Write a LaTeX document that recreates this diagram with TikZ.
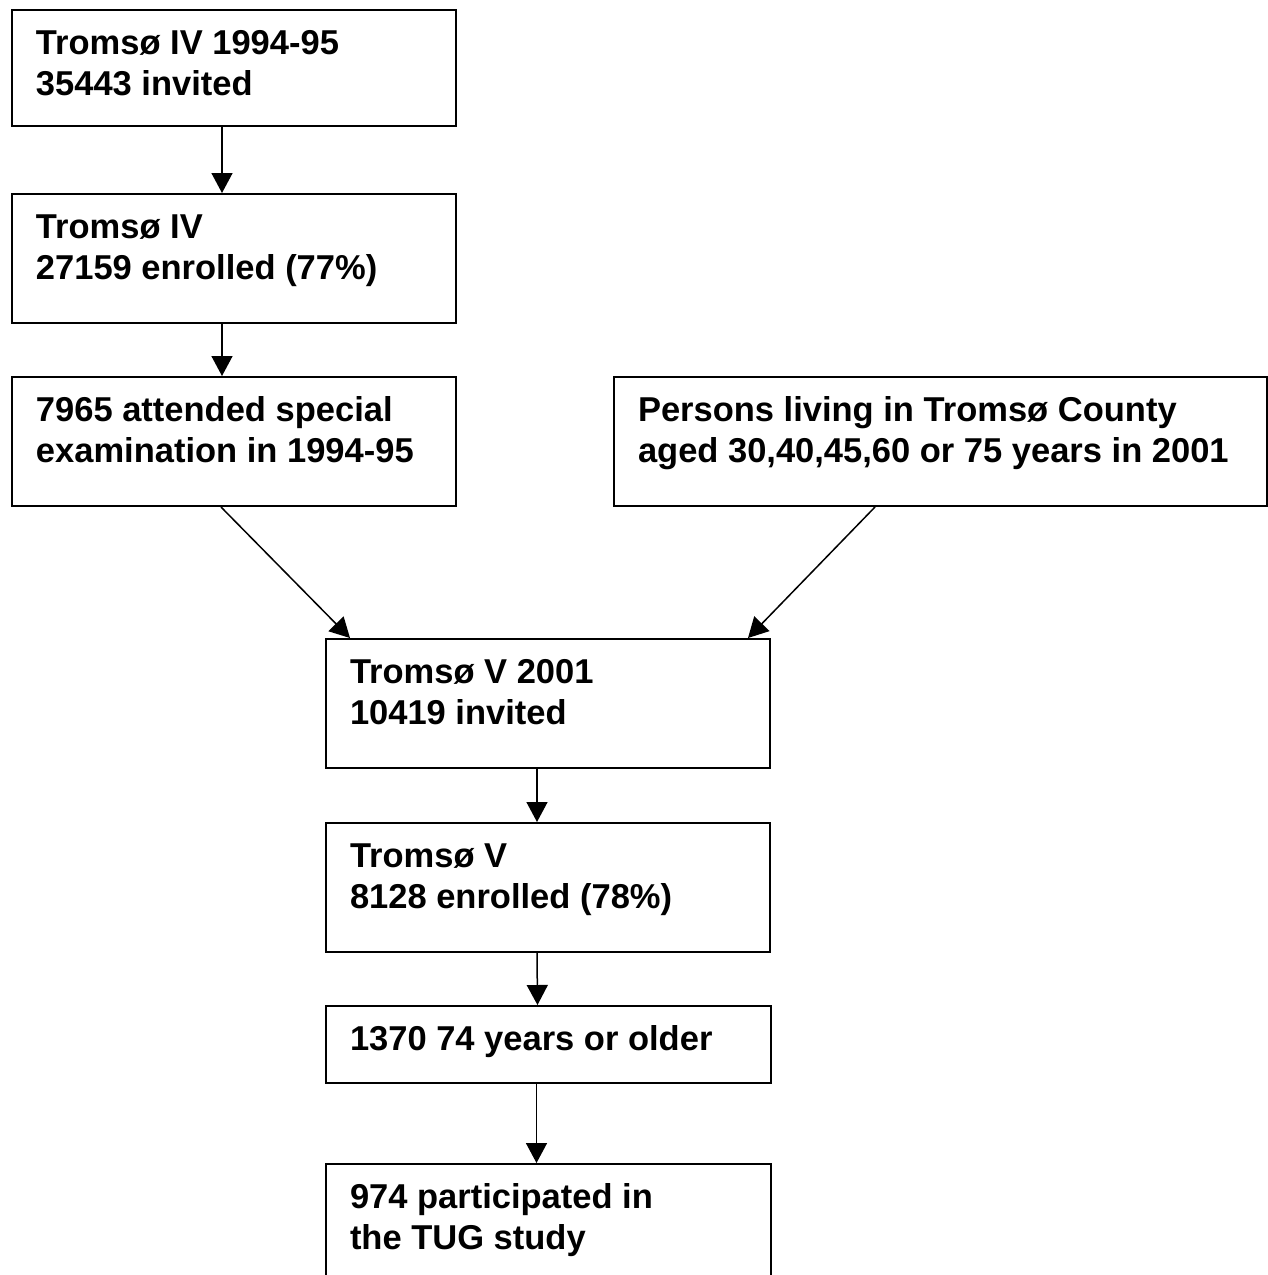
\documentclass[tikz,border=0pt]{standalone}
\usepackage{fontspec}
\setmainfont{Liberation Sans}
\usetikzlibrary{arrows.meta}

\newcommand\boxfont{\fontsize{34.5}{41}\selectfont\bfseries}
\newcommand\boxtext[3]{\parbox[t][#2][t]{#1}{\raggedright\leftskip=24pt\rule{0pt}{44pt}#3}}

\begin{document}
\begin{tikzpicture}[x=1pt,y=-1pt,
		box/.style={draw,line width=2pt,anchor=north west,inner sep=0pt,font=\boxfont},
		flow/.style={-{Triangle[length=20pt,width=21pt]},line width=1.5pt}]
	\useasboundingbox (0,0) rectangle (1268,1275);
	% Tromsø IV
	\node[box] (inv4) at (11,9)   {\boxtext{444pt}{116pt}{Tromsø IV 1994-95\\35443 invited}};
	\node[box] (enr4) at (11,193) {\boxtext{444pt}{129pt}{Tromsø IV\\27159 enrolled (77\%)}};
	\node[box] (spec) at (11,376) {\boxtext{444pt}{129pt}{7965 attended special\\examination in 1994-95}};
	\node[box] (pop)  at (613,376) {\boxtext{653pt}{129pt}{Persons living in Tromsø County\\aged 30,40,45,60 or 75 years in 2001}};
	% Tromsø V
	\node[box] (inv5) at (325,638)  {\boxtext{444pt}{129pt}{Tromsø V 2001\\10419 invited}};
	\node[box] (enr5) at (325,822)  {\boxtext{444pt}{129pt}{Tromsø V\\8128 enrolled (78\%)}};
	\node[box] (old)  at (325,1005) {\boxtext{445pt}{77pt}{1370 74 years or older}};
	\node[box] (tug)  at (325,1163) {\boxtext{445pt}{130pt}{974 participated in\\the TUG study}};
	\path
		([xshift=-12pt]inv4.south) edge[flow] ([xshift=-12pt]enr4.north)
		([xshift=-12pt]enr4.south) edge[flow] ([xshift=-12pt]spec.north)
		([xshift=-13pt]spec.south) edge[flow] ([xshift=25pt]inv5.north west)
		([xshift=262pt]pop.south west) edge[flow] ([xshift=-23pt]inv5.north east)
		([xshift=-11pt]inv5.south) edge[flow] ([xshift=-11pt]enr5.north)
		([xshift=-11pt]enr5.south) edge[flow] ([xshift=-11pt]old.north)
		([xshift=-12pt]old.south)  edge[flow] ([xshift=-12pt]tug.north);
\end{tikzpicture}
\end{document}
